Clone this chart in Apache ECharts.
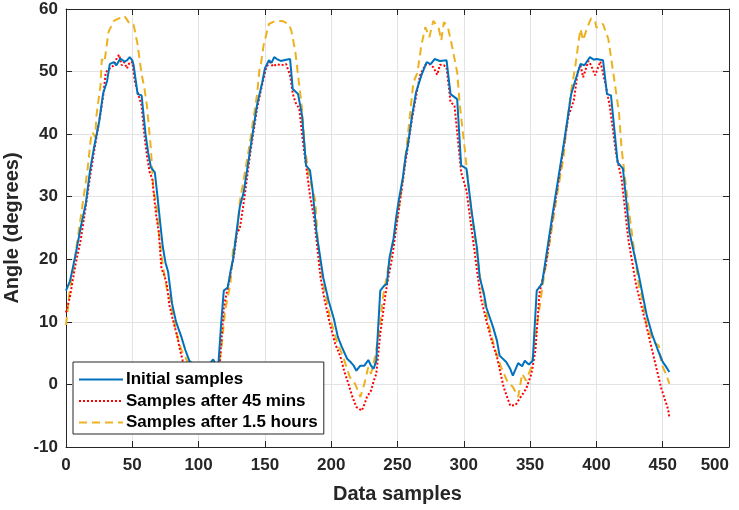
<!DOCTYPE html>
<html>
<head>
<meta charset="utf-8">
<script src="https://cdn.jsdelivr.net/npm/echarts@6/dist/echarts.min.js"></script>
<style>html,body{margin:0;padding:0;background:#fff}#c{width:739px;height:510px}</style>
</head>
<body>
<div id="c"></div>
<script>
var seriesNames = ['Initial samples', 'Samples after 45 mins', 'Samples after 1.5 hours'];
var xTicks = [0, 50, 100, 150, 200, 250, 300, 350, 400, 450, 500];
var yTicks = [-10, 0, 10, 20, 30, 40, 50, 60];

var initialSamples = [[0,15.0],[3,16.5],[7,20.5],[11,25],[15,29],[18,34],[21,37.7],[25,42],[28,46.5],[31,48.5],[33,51.2],[36,51.5],[38,51],[41,52.1],[44,51.6],[46,51.8],[48,52.3],[50,51.8],[51,51.0],[53,48],[54,46.4],[57,46.2],[60,40],[62,37],[64,34.7],[67,33.9],[69,30],[71,25.9],[73,22],[75,19.5],[77,18],[80,12.9],[83,10],[87,7.6],[90,5.5],[93,3.8],[97,3],[101,2.5],[105,2.2],[109,3.5],[111,4],[113,3.2],[115,3.5],[117,9.7],[119,15],[122,15.5],[124,18],[126,20],[129,25],[131,28.3],[134,30.7],[139,37.7],[144,44.6],[148,48.3],[150,50.5],[153,51.8],[155,51.4],[157,52.3],[159,52],[162,51.7],[166,51.9],[169,52],[171,47.2],[175,46.4],[178,43],[181,35],[184,34.2],[186,31],[189,24.1],[194,17.1],[198,13.4],[202,10.5],[205,7.6],[208,6],[212,4.1],[215,3.5],[217,3],[219,2.2],[222,3.0],[225,3.0],[228,3.9],[230,3],[232,2.5],[234,3.8],[237,15.0],[240,15.8],[242,16.1],[244,20.3],[247,23.3],[249,26.7],[251,29.5],[254,33],[256,36.3],[258,38.5],[261,43],[264,46.7],[268,49.4],[272,51.5],[275,51.2],[278,52],[282,51.7],[287,51.8],[290,46.4],[295,45.6],[298,35],[302,34.5],[306,27.5],[310,21.7],[312,17.1],[315,14.7],[317,12.3],[322,9.2],[325,7],[327,4.6],[332,3.6],[335,2.5],[337,1.4],[341,3.4],[344,2.9],[346,3.8],[349,3.2],[352,3.8],[355,15],[359,16.1],[362,20.3],[367,27.3],[371,32.6],[375,37.9],[381,46.4],[384,48.5],[388,51.2],[391,51],[395,52.3],[398,51.9],[400,52],[405,51.8],[408,46.4],[411,46.2],[416,35.5],[420,34.5],[425,24.3],[432,17.4],[438,11],[442,8],[446,5.7],[450,3.6],[452,3],[455,2]];

var after45mins = [[0,11.5],[3,14],[7,19],[11,23],[15,28.5],[18,33],[21,37],[25,42],[28,46],[30,49.9],[33,50.5],[36,51],[38,52],[40,52.7],[42,51],[44,51.5],[46,50.5],[48,51.5],[50,51.5],[52,48.3],[55,46],[57,44.6],[59,40],[61,36.6],[63,34],[65,32.9],[68,27],[70,24.3],[72,18.5],[74,17.5],[76,16.1],[78,12.6],[81,10],[84,7.6],[86,5.5],[88,3.8],[91,1.5],[95,0],[100,-1],[105,-1],[110,0.5],[114,2],[116,3.3],[119,12.3],[122,15.5],[124,17.7],[127,21],[129,24.4],[131,24.8],[134,29],[139,37],[144,44],[148,48],[151,50.7],[154,51.5],[156,50.8],[159,51.2],[162,51],[166,51.2],[169,49.4],[171,46.5],[173,45.1],[176,44],[178,40],[180,36.6],[184,30.2],[187,26.7],[192,17.1],[195,13.5],[199,9.7],[203,6.5],[207,4.4],[210,2],[213,0.1],[216,-2],[219,-3.6],[223,-4.2],[225,-3.2],[227,-2],[230,-1],[232,0.5],[234,1.7],[237,8.1],[241,14.5],[243,17],[246,20.3],[249,25],[252,29.4],[256,35.5],[261,42.5],[264,46],[267,49.4],[271,51.1],[274,51.2],[277,50.7],[280,49.5],[282,51.1],[285,51],[287,50.6],[290,45.1],[293,44.6],[298,33.9],[302,31],[306,24.6],[311,16.6],[313,13.7],[317,10.2],[321,7],[325,4.4],[330,-0.4],[335,-3.4],[339,-3.3],[342,-2.3],[347,-0.7],[351,1.7],[354,5.4],[357,14.5],[362,19.3],[367,26.7],[371,32],[375,37.5],[379,43],[383,45.4],[386,50],[388,51],[390,49.1],[394,51.7],[396,51],[399,49.4],[403,51.6],[407,47.8],[410,44.6],[415,36.6],[419,32.9],[424,23.3],[430,15.8],[437,10],[443,4.6],[449,-0.7],[454,-3.9],[455,-5.2]];

var after15hours = [[0,9.5],[3,15.3],[6,19],[8,22.2],[12,28],[16,33.9],[19,39.8],[20,40.3],[22,39.5],[23,43],[26,47.8],[27,52],[29,51.5],[32,56.3],[36,58.1],[40,58.5],[44,58.9],[46,58.3],[48,57.6],[51,57.5],[54,54.3],[57,49.6],[59,47.5],[61,44.6],[64,37.7],[66,31],[68,29],[70,24.3],[73,19],[76,15.3],[78,14.5],[81,10.5],[84,7.6],[87,5.5],[90,4.4],[93,3],[97,2],[102,1.5],[107,1.5],[111,2.5],[115,3],[117,5.4],[120,11.8],[124,16.1],[126,21.7],[129,24],[131,29.1],[135,34],[138,37.7],[140,40.6],[144,46.2],[146,50.5],[147,51.2],[149,54.2],[153,57.6],[158,58.1],[163,58.1],[168,57.6],[170,56.5],[173,53.1],[175,49.4],[178,44],[180,38.2],[183,33.5],[186,31],[188,29.4],[190,22.5],[194,16.1],[199,10.8],[204,7],[209,4.4],[214,1.2],[218,0.1],[222,-2],[225,0.1],[228,2.8],[230,1.7],[233,4.4],[236,8.1],[239,13.9],[244,19.8],[248,24.1],[253,31],[257,38.2],[262,48.3],[265,49.8],[268,54.2],[271,57.1],[274,55.5],[277,58.1],[281,57],[283,55],[285,57.9],[288,57.1],[291,54.2],[295,49.9],[297,44.6],[301,37.1],[303,32.9],[307,25.5],[312,17.5],[318,10.2],[323,6],[328,2.8],[333,0.4],[337,-0.4],[341,-2],[344,1.7],[347,0.6],[351,2.8],[355,9.2],[360,16.6],[365,23],[370,29.9],[375,36],[378,42],[381,47],[384,50.7],[386,53.9],[388,56.8],[390,55],[393,57],[396,58.5],[399,58.1],[400,57],[403,57.5],[405,57.6],[409,55.2],[413,49.4],[417,43.5],[419,37.7],[424,28.6],[428,22.2],[432,15.8],[434,14.2],[438,9.4],[443,6.8],[447,6.2],[449,3.3],[453,1.4],[455,0.1]];

var FONT = '"Liberation Sans", Arial, Helvetica, sans-serif';
var AX = '#262626';
var chart = echarts.init(document.getElementById('c'), null, {renderer: 'canvas'});

function xAxisCfg(pos, show) {
  return {
    type: 'value', position: pos, min: xTicks[0], max: xTicks[xTicks.length - 1], interval: 50,
    axisLine: {show: true, onZero: false, lineStyle: {color: AX, width: 1}},
    axisTick: {show: true, inside: true, length: 6, lineStyle: {color: AX}},
    axisLabel: {show: show, color: '#262626', fontFamily: FONT, fontWeight: 'bold', fontSize: 17, margin: 10, alignMaxLabel: 'right'},
    splitLine: {show: show, lineStyle: {color: '#e3e3e3', width: 1}},
    name: show ? 'Data samples' : '', nameLocation: 'middle', nameGap: 37,
    nameTextStyle: {color: '#262626', fontFamily: FONT, fontWeight: 'bold', fontSize: 20}
  };
}
function yAxisCfg(pos, show) {
  return {
    type: 'value', position: pos, min: yTicks[0], max: yTicks[yTicks.length - 1], interval: 10,
    axisLine: {show: true, onZero: false, lineStyle: {color: AX, width: 1}},
    axisTick: {show: true, inside: true, length: 6, lineStyle: {color: AX}},
    axisLabel: {show: show, color: '#262626', fontFamily: FONT, fontWeight: 'bold', fontSize: 17, margin: 8},
    splitLine: {show: show, lineStyle: {color: '#e3e3e3', width: 1}},
    name: show ? 'Angle (degrees)' : '', nameLocation: 'middle', nameGap: 38,
    nameTextStyle: {color: '#262626', fontFamily: FONT, fontWeight: 'bold', fontSize: 20}
  };
}

var colors = ['#0072BD', '#FF0000', '#EDB120'];
var dataSets = [initialSamples, after45mins, after15hours];
var types = ['solid', [2, 2], [8, 5]];

chart.setOption({
  animation: false,
  backgroundColor: '#fff',
  grid: {left: 66, top: 9, right: 10, bottom: 63, containLabel: false, outerBoundsMode: 'none'},
  xAxis: [xAxisCfg('bottom', true), xAxisCfg('top', false)],
  yAxis: [yAxisCfg('left', true), yAxisCfg('right', false)],
  legend: {
    orient: 'vertical', left: 73, top: 362,
    backgroundColor: '#fff', borderColor: AX, borderWidth: 1,
    padding: [9, 6, 3, 5], itemGap: 4.5, itemWidth: 44, itemHeight: 14,
    itemStyle: {opacity: 0},
    textStyle: {color: '#000', fontFamily: FONT, fontWeight: 'bold', fontSize: 17, padding: [0, 0, 0, -2]},
    data: seriesNames
  },
  series: dataSets.map(function (d, i) {
    return {
      name: seriesNames[i], type: 'line', data: d, symbol: 'none', showSymbol: false, xAxisIndex: 0, yAxisIndex: 0,
      lineStyle: {color: colors[i], width: 2, type: types[i]},
      itemStyle: {color: colors[i]}, z: 3 - i
    };
  })
});
</script>
</body>
</html>
